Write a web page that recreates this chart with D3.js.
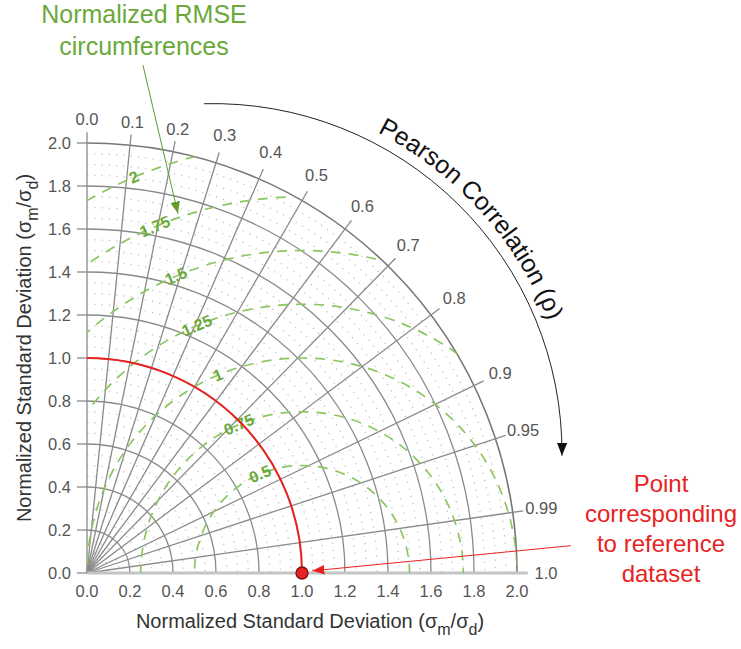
<!DOCTYPE html>
<meta charset="utf-8">
<style>
    body { margin: 0; background: #fff; }
    text { font-family: "Liberation Sans", Arial, sans-serif; }
</style>
<script src="https://d3js.org/d3.v7.min.js"></script>

<div id="svg-holder"></div>

<script>
    var width = 741, height = 649;

    // data
    var sdTicks = [0, 0.2, 0.4, 0.6, 0.8, 1.0, 1.2, 1.4, 1.6, 1.8, 2.0];
    var sdLabels = ["0.0", "0.2", "0.4", "0.6", "0.8", "1.0", "1.2", "1.4", "1.6", "1.8", "2.0"];
    var sdMinor = [0.05, 0.1, 0.15, 0.25, 0.3, 0.35, 0.45, 0.5, 0.55, 0.65, 0.7, 0.75, 0.85, 0.9, 0.95,
                   1.05, 1.1, 1.15, 1.25, 1.3, 1.35, 1.45, 1.5, 1.55, 1.65, 1.7, 1.75, 1.85, 1.9, 1.95];
    var corrTicks = [0, 0.1, 0.2, 0.3, 0.4, 0.5, 0.6, 0.7, 0.8, 0.9, 0.95, 0.99, 1.0];
    var corrLabels = ["0.0", "0.1", "0.2", "0.3", "0.4", "0.5", "0.6", "0.7", "0.8", "0.9", "0.95", "0.99", "1.0"];
    var rmseLevels = [0.5, 0.75, 1, 1.25, 1.5, 1.75, 2];
    var rmseLabels = ["0.5", "0.75", "1", "1.25", "1.5", "1.75", "2"];
    var refPoint = [1.0, 0];   // reference dataset: sd ratio 1, correlation 1

    var sdMax = 2;
    var gridColor = "#8a8a8a";
    var green = "#6aa93a", greenLine = "#8cc660", red = "#e8231f";

    var svg = d3.select("#svg-holder").append("svg").attr("width", width).attr("height", height);
    var defs = svg.append("defs");

    var x = d3.scaleLinear().domain([0, 2]).range([87, 517]);
    var y = d3.scaleLinear().domain([0, 2]).range([573, 143]);
    var k = x(1) - x(0);  // px per unit

    function polar(s, c) { var t = Math.acos(c); return [x(s * Math.cos(t)), y(s * Math.sin(t))]; }
    function quarterArc(r) {
        return "M" + x(0) + "," + y(r) + " A" + (r * k) + "," + (r * k) + " 0 0 1 " + x(r) + "," + y(0);
    }

    // clip for RMSE circles
    defs.append("clipPath").attr("id", "quad").append("path")
        .attr("d", "M" + x(0) + "," + y(0) + " L" + x(0) + "," + y(sdMax) +
              " A" + (sdMax * k) + "," + (sdMax * k) + " 0 0 1 " + x(sdMax) + "," + y(0) + " Z");

    // arrow markers
    function marker(id, color, size) {
        defs.append("marker").attr("id", id).attr("viewBox", "0 0 10 10")
            .attr("refX", 10).attr("refY", 5).attr("markerUnits", "userSpaceOnUse")
            .attr("markerWidth", size).attr("markerHeight", size).attr("orient", "auto")
            .append("path").attr("d", "M0,1 L10,5 L0,9 Z").attr("fill", color);
    }
    marker("arrBlack", "#111", 13);
    marker("arrGreen", "#5e9e2e", 12);
    marker("arrRed", red, 12);

    // minor dotted arcs
    svg.append("g").selectAll("path").data(sdMinor).join("path")
        .attr("d", function(d) { return quarterArc(d); })
        .attr("fill", "none").attr("stroke", "#c4c4c4").attr("stroke-width", 1.3)
        .attr("stroke-dasharray", "1.3,6");

    // major arcs
    svg.append("g").selectAll("path").data(sdTicks.filter(function(d) { return d > 0; })).join("path")
        .attr("d", function(d) { return quarterArc(d); })
        .attr("fill", "none")
        .attr("stroke", function(d) { return d === sdMax ? "#777" : gridColor; })
        .attr("stroke-width", function(d) { return d === sdMax ? 1.6 : 1.3; });

    // radial lines
    svg.append("g").selectAll("line").data(corrTicks.filter(function(d) { return d < 1; })).join("line")
        .attr("x1", x(0)).attr("y1", y(0))
        .attr("x2", function(d) { return polar(2.05, d)[0]; })
        .attr("y2", function(d) { return polar(2.05, d)[1]; })
        .attr("stroke", gridColor).attr("stroke-width", 1.3);

    // bottom axis line
    svg.append("line").attr("x1", x(0)).attr("x2", x(2.05)).attr("y1", y(0)).attr("y2", y(0))
        .attr("stroke", "#c4c4c4").attr("stroke-width", 3);

    // y ticks
    svg.append("g").selectAll("line").data(sdTicks).join("line")
        .attr("x1", x(0) - 10).attr("x2", x(0))
        .attr("y1", function(d) { return y(d); }).attr("y2", function(d) { return y(d); })
        .attr("stroke", gridColor).attr("stroke-width", 1.3);

    // y tick labels
    svg.append("g").selectAll("text").data(sdTicks).join("text")
        .attr("x", x(0) - 16).attr("y", function(d) { return y(d); })
        .attr("text-anchor", "end").attr("dominant-baseline", "central")
        .attr("font-size", 16.5).attr("fill", "#555")
        .text(function(d, i) { return sdLabels[i]; });

    // x tick labels
    svg.append("g").selectAll("text").data(sdTicks).join("text")
        .attr("x", function(d) { return x(d); }).attr("y", y(0) + 18)
        .attr("text-anchor", "middle").attr("dominant-baseline", "central")
        .attr("font-size", 16.5).attr("fill", "#555")
        .text(function(d, i) { return sdLabels[i]; });

    // correlation labels
    svg.append("g").selectAll("text").data(corrTicks).join("text")
        .attr("x", function(d) { return polar(d < 0.25 ? 2.11 : 2.135, d)[0]; })
        .attr("y", function(d) { return polar(d < 0.25 ? 2.11 : 2.135, d)[1]; })
        .attr("text-anchor", "middle").attr("dominant-baseline", "central")
        .attr("font-size", 16.5).attr("fill", "#555")
        .text(function(d, i) { return corrLabels[i]; });

    // RMSE circles
    var rmseG = svg.append("g").attr("clip-path", "url(#quad)");
    rmseG.selectAll("circle").data(rmseLevels).join("circle")
        .attr("cx", x(refPoint[0])).attr("cy", y(refPoint[1]))
        .attr("r", function(d) { return d * k; })
        .attr("fill", "none").attr("stroke", greenLine).attr("stroke-width", 1.7)
        .attr("stroke-dasharray", "10,8");

    // RMSE labels
    var labAng = 113 * Math.PI / 180;
    svg.append("g").selectAll("text").data(rmseLevels).join("text")
        .attr("transform", function(d) {
            var px = x(refPoint[0] + d * Math.cos(labAng)), py = y(d * Math.sin(labAng));
            return "translate(" + px + "," + py + ") rotate(" + (-(113 - 90)) + ")";
        })
        .attr("text-anchor", "middle").attr("dominant-baseline", "central")
        .attr("font-size", 16).attr("font-weight", "bold").attr("fill", green)
        .text(function(d, i) { return rmseLabels[i]; });

    // reference arc (sd = 1)
    svg.append("path").attr("d", quarterArc(refPoint[0]))
        .attr("fill", "none").attr("stroke", red).attr("stroke-width", 2);

    // reference point
    svg.append("circle").attr("cx", x(refPoint[0])).attr("cy", y(refPoint[1])).attr("r", 6)
        .attr("fill", "#e52222").attr("stroke", "#7a1010").attr("stroke-width", 1.3);

    // axis titles
    function sdTitle(t) {
        t.append("tspan").text("Normalized Standard Deviation (\u03C3");
        t.append("tspan").attr("dy", 7).attr("font-size", 16).text("m");
        t.append("tspan").attr("dy", -7).text("/\u03C3");
        t.append("tspan").attr("dy", 7).attr("font-size", 16).text("d");
        t.append("tspan").attr("dy", -7).text(")");
    }
    sdTitle(svg.append("text").attr("x", 310).attr("y", 628).attr("text-anchor", "middle")
        .attr("font-size", 20).attr("fill", "#333"));
    sdTitle(svg.append("text").attr("transform", "translate(31,348) rotate(-90)").attr("text-anchor", "middle")
        .attr("font-size", 20).attr("fill", "#333"));

    // Pearson correlation annotation arc
    var ac = [x(0.586), y(0.56)], ar = 349;
    function arcPt(r, deg) { var a = deg * Math.PI / 180; return [ac[0] + r * Math.cos(a), ac[1] - r * Math.sin(a)]; }
    var a0 = arcPt(ar, 91.5), a1 = arcPt(ar, -0.5);
    svg.append("path")
        .attr("d", "M" + a0 + " A" + ar + "," + ar + " 0 0 1 " + a1)
        .attr("fill", "none").attr("stroke", "#222").attr("stroke-width", 1)
        .attr("marker-end", "url(#arrBlack)");

    var tr = 360, t0 = arcPt(tr, 82), t1 = arcPt(tr, 3);
    defs.append("path").attr("id", "pearsonPath")
        .attr("d", "M" + t0 + " A" + tr + "," + tr + " 0 0 1 " + t1);
    svg.append("text").attr("font-size", 25).attr("fill", "#111")
        .append("textPath").attr("href", "#pearsonPath").attr("startOffset", "50.5%")
        .attr("text-anchor", "middle")
        .text("Pearson Correlation (\u03C1)");

    // RMSE annotation
    var gt = svg.append("text").attr("text-anchor", "middle").attr("font-size", 25).attr("fill", green);
    gt.append("tspan").attr("x", 144).attr("y", 23).text("Normalized RMSE");
    gt.append("tspan").attr("x", 144).attr("y", 55).text("circumferences");
    svg.append("line")
        .attr("x1", x(0.26)).attr("y1", y(2.363)).attr("x2", x(0.423)).attr("y2", y(1.672))
        .attr("stroke", "#5e9e2e").attr("stroke-width", 1)
        .attr("marker-end", "url(#arrGreen)");

    // reference point annotation
    var rt = svg.append("text").attr("text-anchor", "middle").attr("font-size", 24).attr("fill", red);
    ["Point", "corresponding", "to reference", "dataset"].forEach(function(s, i) {
        rt.append("tspan").attr("x", 661).attr("y", 492 + i * 30).text(s);
    });
    svg.append("line")
        .attr("x1", x(2.25)).attr("y1", y(0.127)).attr("x2", x(1.048)).attr("y2", y(0.01))
        .attr("stroke", red).attr("stroke-width", 1)
        .attr("marker-end", "url(#arrRed)");
</script>
